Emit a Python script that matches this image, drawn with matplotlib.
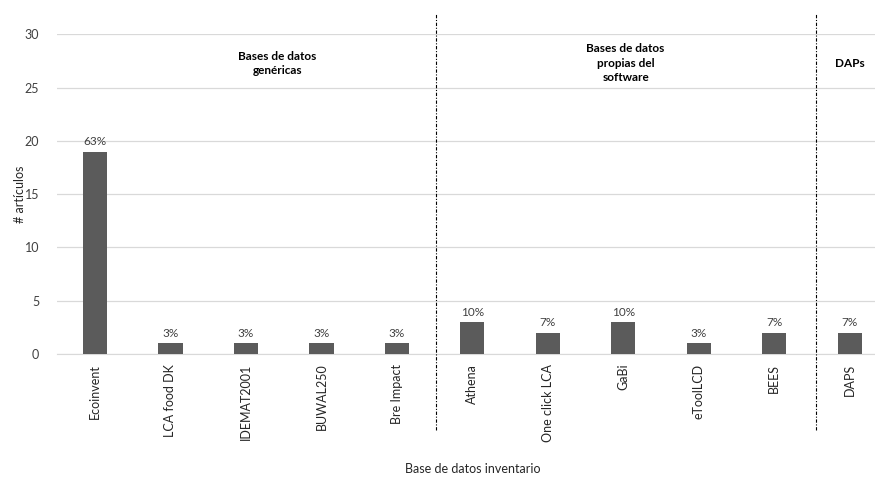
import matplotlib
matplotlib.use("Agg")
import matplotlib.pyplot as plt

categories = ["Ecoinvent", "LCA food DK", "IDEMAT2001", "BUWAL250", "Bre Impact",
              "Athena", "One click LCA", "GaBi", "eToolLCD", "BEES", "DAPS"]
values = [19, 1, 1, 1, 1, 3, 2, 3, 1, 2, 2]
percent_labels = ["63%", "3%", "3%", "3%", "3%", "10%", "7%", "10%", "3%", "7%", "7%"]
group_titles = ["Bases de datos\ngenéricas", "Bases de datos\npropias del\nsoftware", "DAPs"]
group_centers = [2.42, 7.03, 10.0]
group_bounds = [4.52, 9.55]

plt.rcParams["font.family"] = ["Lato", "DejaVu Sans"]

fig = plt.figure(figsize=(8.75, 4.8), dpi=100)
ax = fig.add_axes([0.0654, 0.2625, 0.949, 0.666])

x = list(range(len(categories)))
ax.bar(x, values, width=0.32, color="#5b5b5b", zorder=3)
for xi, v, lab in zip(x, values, percent_labels):
    ax.text(xi, v + 0.4, lab, ha="center", va="bottom", fontsize=8.5, color="#404040")

ax.set_xlim(-0.5, len(categories) - 0.5)
ax.set_ylim(0, 30)
ax.set_yticks(range(0, 31, 5))
ax.set_xticks(x)
ax.set_xticklabels(categories, rotation=90, fontsize=9, color="#262626")
ax.tick_params(axis="y", labelsize=9, colors="#404040", length=0, pad=13)
ax.tick_params(axis="x", length=0, pad=7)
ax.grid(axis="y", color="#d9d9d9", linewidth=0.9, zorder=0)
for side in ["left", "right", "top"]:
    ax.spines[side].set_visible(False)
ax.spines["bottom"].set_color("#d9d9d9")

ax.set_ylabel("# artículos", fontsize=9, color="#262626", labelpad=-1)
ax.set_xlabel("Base de datos inventario", fontsize=9, color="#262626", labelpad=15)

trans = ax.get_xaxis_transform()
for b in group_bounds:
    ax.plot([b, b], [-0.238, 1.064], transform=trans, color="black",
            linestyle=(0, (3, 1.5, 1, 1.5)), linewidth=0.8, clip_on=False, zorder=4)

for cx, title in zip(group_centers, group_titles):
    ax.text(cx, 27.3, title, ha="center", va="center", fontsize=8.5,
            fontweight="bold", color="#000000", linespacing=1.35)

fig.savefig("out.png", dpi=100)
